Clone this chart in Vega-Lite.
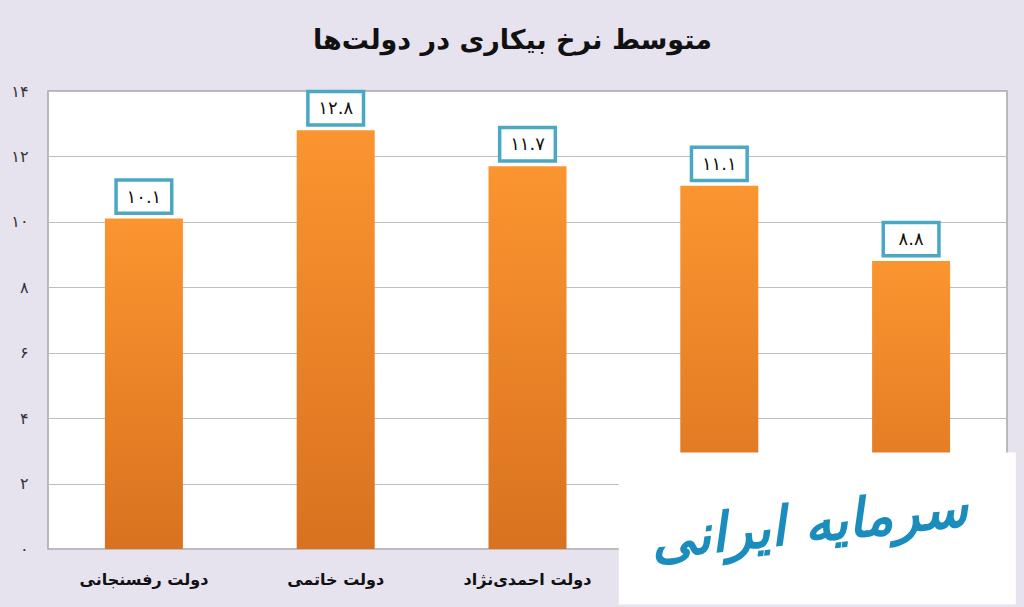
{
  "$schema": "https://vega.github.io/schema/vega-lite/v6.json",
  "width": 959,
  "height": 458,
  "autosize": {"type": "none"},
  "padding": {"left": 48, "top": 91, "right": 17, "bottom": 58},
  "background": "#e6e2ee",
  "title": {
    "text": "متوسط نرخ بیکاری در دولت‌ها",
    "font": "DejaVu Sans",
    "fontSize": 27,
    "fontWeight": "bold",
    "color": "#111111",
    "anchor": "middle",
    "offset": 28,
    "dx": -15
  },
  "config": {
    "view": {"stroke": "#a6a6a6", "strokeWidth": 1.5, "fill": "#ffffff"},
    "font": "DejaVu Sans"
  },
  "data": {
    "values": [
      {"government": "دولت رفسنجانی", "rate": 10.1, "label": "۱۰.۱"},
      {"government": "دولت خاتمی", "rate": 12.8, "label": "۱۲.۸"},
      {"government": "دولت احمدی‌نژاد", "rate": 11.7, "label": "۱۱.۷"},
      {"government": "دولت روحانی", "rate": 11.1, "label": "۱۱.۱"},
      {"government": "دولت رئیسی", "rate": 8.8, "label": "۸.۸"}
    ]
  },
  "encoding": {
    "x": {
      "field": "government",
      "type": "nominal",
      "sort": null,
      "axis": {
        "title": null,
        "labelAngle": 0,
        "labelFontSize": 16,
        "labelFontWeight": "bold",
        "labelColor": "#111111",
        "labelPadding": 22,
        "labelExpr": "datum.label == 'دولت روحانی' || datum.label == 'دولت رئیسی' ? '' : datum.label",
        "ticks": false,
        "domain": false
      }
    },
    "y": {
      "field": "rate",
      "type": "quantitative",
      "scale": {"domain": [0, 14]},
      "axis": {
        "title": null,
        "values": [0, 2, 4, 6, 8, 10, 12, 14],
        "labelExpr": "replace(replace(replace(replace(replace(replace(replace(replace(datum.label,'0','۰'),'1','۱'),'2','۲'),'4','۴'),'6','۶'),'8','۸'),'3','۳'),'5','۵')",
        "labelFontSize": 16,
        "labelColor": "#333333",
        "labelPadding": 20,
        "ticks": false,
        "domain": false,
        "gridColor": "#bdbdbd",
        "gridWidth": 1.2
      }
    }
  },
  "layer": [
    {
      "mark": {
        "type": "bar",
        "size": 78,
        "color": {
          "gradient": "linear",
          "x1": 0, "y1": 0, "x2": 0, "y2": 1,
          "stops": [
            {"offset": 0, "color": "#fb9530"},
            {"offset": 1, "color": "#d9721f"}
          ]
        }
      }
    },
    {
      "mark": {
        "type": "point",
        "shape": "M-1,-0.6H1V0.6H-1Z",
        "size": 3100,
        "filled": false,
        "fill": "#ffffff",
        "fillOpacity": 1,
        "stroke": "#4aa8c2",
        "strokeWidth": 3.5,
        "opacity": 1,
        "yOffset": -22
      }
    },
    {
      "mark": {
        "type": "text",
        "fontSize": 18,
        "fontWeight": "normal",
        "color": "#111111",
        "dy": -21
      },
      "encoding": {"text": {"field": "label"}}
    },
    {
      "data": {"values": [{"logo": "سرمایه ایرانی", "from": 2.95, "to": -1.7}]},
      "mark": {"type": "rect", "color": "#ffffff", "width": 397, "xOffset": 98, "clip": false},
      "encoding": {
        "x": {"datum": "دولت روحانی", "type": "nominal"},
        "y": {"field": "from", "type": "quantitative"},
        "y2": {"field": "to"}
      }
    },
    {
      "data": {"values": [{"logo": "سرمایه ایرانی", "at": 0.7}]},
      "mark": {"type": "text", "color": "#1a8dbd", "fontSize": 54, "fontStyle": "italic", "fontWeight": "bold", "xOffset": 90, "angle": -6},
      "encoding": {
        "x": {"datum": "دولت روحانی", "type": "nominal"},
        "y": {"field": "at", "type": "quantitative"},
        "text": {"field": "logo"}
      }
    }
  ]
}
